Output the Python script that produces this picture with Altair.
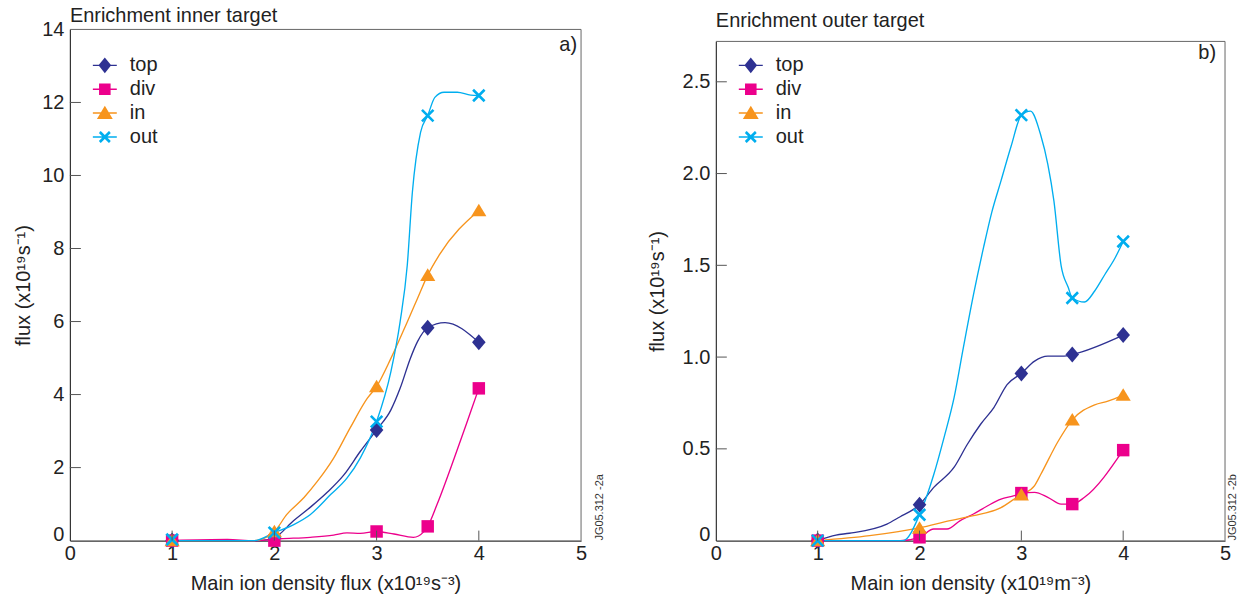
import altair as alt
import pandas as pd

FONT = "Liberation Sans"

series = ["top", "div", "in", "out"]
colors = ["#2e3192", "#ec008c", "#f7941d", "#00aeef"]

# marker positions (main ion density)
marker_x = [1, 2, 3, 3.5, 4]

# ---- panel a) Enrichment inner target: marker values
a_top = [0.0, 0.08, 3.03, 5.83, 5.43]
a_div = [0.0, 0.0, 0.25, 0.39, 4.17]
a_in = [0.0, 0.25, 4.22, 7.27, 9.04]
a_out = [0.03, 0.22, 3.26, 11.64, 12.19]

# ---- panel a) traced curves
a_top_cx = [1, 1.86, 2, 2.19, 2.35, 2.52, 2.68, 2.84, 3, 3.14, 3.23, 3.33, 3.40, 3.5, 3.67, 4]
a_top_cy = [0, 0, 0.08, 0.55, 0.91, 1.33, 1.8, 2.44, 3.03, 3.58, 4.17, 4.99, 5.45, 5.83, 5.97, 5.43]
a_div_cx = [1, 1.54, 1.8, 2.06, 2.35, 2.58, 2.71, 2.84, 3, 3.17, 3.36, 3.46, 3.5, 3.59, 3.76, 3.92, 4]
a_div_cy = [0, 0.03, 0, 0.05, 0.09, 0.15, 0.21, 0.2, 0.25, 0.18, 0.09, 0.24, 0.39, 0.98, 2.26, 3.53, 4.17]
a_in_cx = [1, 1.8, 2, 2.12, 2.29, 2.42, 2.58, 2.74, 2.91, 3, 3.14, 3.30, 3.40, 3.5, 3.61, 4]
a_in_cy = [0, 0, 0.25, 0.71, 1.18, 1.62, 2.26, 3.08, 3.9, 4.22, 4.99, 5.99, 6.63, 7.27, 7.81, 9.04]
a_out_cx = [1, 1.8, 2, 2.19, 2.35, 2.55, 2.71, 2.84, 3, 3.14, 3.23, 3.30, 3.35, 3.43, 3.5,
            3.57, 3.66, 3.79, 3.92, 4]
a_out_cy = [0, 0, 0.22, 0.44, 0.71, 1.26, 1.71, 2.26, 3.26, 4.63, 5.99, 7.54, 9.54, 11.18, 11.64,
            12.14, 12.28, 12.28, 12.2, 12.19]

# ---- panel b) Enrichment outer target: marker values
b_top = [0.0, 0.196, 0.911, 1.014, 1.12]
b_div = [0.0, 0.018, 0.259, 0.199, 0.493]
b_in = [0.0, 0.069, 0.25, 0.658, 0.793]
b_out = [0.0, 0.141, 2.318, 1.322, 1.63]

# ---- panel b) traced curves
b_top_cx = [1, 1.18, 1.31, 1.68, 1.81, 1.94, 2, 2.14, 2.34, 2.47, 2.60, 2.73, 2.86, 3, 3.13,
            3.26, 3.42, 3.5, 4]
b_top_cy = [0, 0.03, 0.04, 0.09, 0.13, 0.17, 0.196, 0.29, 0.40, 0.525, 0.634, 0.725, 0.85,
            0.911, 0.978, 1.005, 1.005, 1.014, 1.12]
b_div_cx = [1, 1.64, 1.81, 2, 2.14, 2.27, 2.40, 2.53, 2.67, 2.80, 2.93, 3, 3.13, 3.26, 3.39,
            3.5, 3.62, 4]
b_div_cy = [0, 0, 0, 0.018, 0.063, 0.063, 0.109, 0.145, 0.19, 0.226, 0.245, 0.259, 0.263,
            0.236, 0.199, 0.199, 0.236, 0.493]
b_in_cx = [1, 1.51, 2, 2.30, 2.53, 2.80, 2.93, 3, 3.13, 3.19, 3.36, 3.5, 3.72, 3.85, 4]
b_in_cy = [0, 0.027, 0.069, 0.109, 0.136, 0.18, 0.226, 0.25, 0.30, 0.36, 0.54, 0.658, 0.74,
           0.76, 0.793]
b_out_cx = [1, 1.84, 2, 2.14, 2.24, 2.34, 2.43, 2.53, 2.63, 2.71, 2.80, 2.90, 3, 3.09, 3.19,
            3.26, 3.32, 3.39, 3.46, 3.5, 3.62, 3.72, 3.82, 3.92, 4]
b_out_cy = [0, 0, 0.141, 0.36, 0.56, 0.78, 1.05, 1.34, 1.6, 1.79, 1.96, 2.15, 2.318, 2.34,
            2.21, 2.05, 1.85, 1.50, 1.38, 1.322, 1.30, 1.36, 1.45, 1.54, 1.63]

# axis tick labels
x_ticks = [0, 1, 2, 3, 4, 5]
a_y_ticks = [0, 2, 4, 6, 8, 10, 12, 14]
b_y_ticks = [0, 0.5, 1.0, 1.5, 2.0, 2.5]

# marker symbols (unit box -1..1)
marker_paths = {
    "top": "M0,-1L0.85,0L0,1L-0.85,0Z",
    "div": "M-0.78,-0.78H0.78V0.78H-0.78Z",
    "in": "M0,-0.85L0.95,0.72H-0.95Z",
    "out": "M-0.72,-0.72L0.72,0.72M-0.72,0.72L0.72,-0.72",
}


def rings(poly, scales):
    out = []
    for k in scales:
        pts = ["%.3f,%.3f" % (x * k, y * k) for x, y in poly]
        out.append("M" + "L".join(pts) + "Z")
    return "".join(out)


ring_scales = [1.0, 0.84, 0.68, 0.52, 0.36, 0.2, 0.06]
legend_paths = [
    "M-1,0H1" + rings([(0, -0.55), (0.45, 0), (0, 0.55), (-0.45, 0)], ring_scales),
    "M-1,0H1" + rings([(-0.42, -0.42), (0.42, -0.42), (0.42, 0.42), (-0.42, 0.42)], ring_scales),
    "M-1,0H1" + rings([(0, -0.5), (0.55, 0.42), (-0.55, 0.42)], ring_scales),
    "M-1,0H1" + "".join(
        "M%.3f,%.3fL%.3f,%.3fM%.3f,%.3fL%.3f,%.3f" % (-0.42 + d, -0.42 - d, 0.42 + d, 0.42 - d,
                                                    -0.42 + d, 0.42 + d, 0.42 + d, -0.42 + d)
        for d in (-0.035, 0, 0.035)),
]


def panel(marker_vals, curves, y_max, y_ticks, y_fmt, x_title, title, title_y, tag, tag_dx,
          tag_y, jg, jg_dx, W, H, top_gap, title_x):
    mdf = pd.DataFrame([{"x": x, "v": v, "s": s}
                        for s, vals in zip(series, marker_vals)
                        for x, v in zip(marker_x, vals)])
    cdf = pd.DataFrame([{"x": x, "v": v, "s": s, "i": i}
                        for s, (cx, cy) in zip(series, curves)
                        for i, (x, v) in enumerate(zip(cx, cy))])
    xs = alt.Scale(domain=[0, 5], nice=False, zero=False)
    ys = alt.Scale(domain=[0, y_max], nice=False, zero=False, range=[H, top_gap])
    X = alt.X("x:Q", scale=xs, title=x_title,
              axis=alt.Axis(values=x_ticks, labelFlush=False, labelPadding=3,
                            titleY=43, titleBaseline="middle", format="d"))
    Y = alt.Y("v:Q", scale=ys, title="flux (x10¹⁹s⁻¹)",
              axis=alt.Axis(values=y_ticks, labelFlush=False, labelPadding=6,
                            titleX=title_x, titleBaseline="middle",
                            labelExpr=y_fmt,
                            labelBaseline={"condition": {"test": "datum.value === 0",
                                                         "value": "alphabetic"},
                                           "value": "middle"}))
    leg = alt.Legend(orient="none", legendX=22, legendY=23,
                     title=None,
                     labelFont=FONT, labelFontSize=20, labelColor="#222",
                     symbolSize=576, symbolStrokeWidth=1.5, rowPadding=0.9,
                     labelOffset=12, padding=0, symbolOpacity=1)
    stroke_scale = alt.Scale(domain=series, range=colors)
    lines = alt.Chart(cdf).mark_line(strokeWidth=1.35, interpolate="monotone").encode(
        x=X, y=Y, stroke=alt.Stroke("s:N", scale=stroke_scale, legend=None), order="i:Q",
        detail="s:N")
    layers = [lines]
    for s in series:
        filled = s != "out"
        base = alt.Chart(mdf).transform_filter(alt.datum.s == s)
        if filled:
            pts = base.mark_point(shape=marker_paths[s], filled=True, size=256, opacity=1,
                                  strokeWidth=0).encode(
                x=X, y=Y, fill=alt.Fill("s:N", scale=alt.Scale(domain=series, range=colors),
                                        legend=None))
        else:
            pts = base.mark_point(shape=marker_paths[s], filled=False, size=256, opacity=1,
                                  strokeWidth=2.6).encode(
                x=X, y=Y, stroke=alt.Stroke("s:N", scale=stroke_scale, legend=None))
        layers.append(pts)
    legend_layer = alt.Chart(mdf).transform_filter("datum.x < -100").mark_point(
        filled=False, opacity=1, strokeWidth=1.5).encode(
        x=X, y=Y,
        color=alt.Color("s:N", scale=alt.Scale(domain=series, range=colors), legend=leg),
        shape=alt.Shape("s:N", scale=alt.Scale(domain=series, range=legend_paths), legend=leg),
    )
    layers.append(legend_layer)
    # frame (top and right borders)
    top_b = alt.Chart(pd.DataFrame({"v": [y_max]})).mark_rule(color="#666", strokeWidth=1).encode(
        y=alt.Y("v:Q", scale=ys), x=alt.value(0), x2=alt.value(W))
    right_b = alt.Chart(pd.DataFrame({"x": [5], "y0": [0], "y1": [y_max]})).mark_rule(
        color="#666", strokeWidth=1).encode(
        x=alt.X("x:Q", scale=xs), y=alt.Y("y0:Q", scale=ys), y2="y1:Q")
    inner = y_ticks[1:-1] if y_ticks[-1] == y_max else y_ticks[1:]
    yt = alt.Chart(pd.DataFrame({"v": inner})).mark_rule(color="#555", strokeWidth=1).encode(
        y=alt.Y("v:Q", scale=ys), x=alt.value(0), x2=alt.value(11))
    xt = alt.Chart(pd.DataFrame({"x": x_ticks[1:-1]})).mark_rule(
        color="#555", strokeWidth=1).encode(
        x=alt.X("x:Q", scale=xs), y=alt.value(H), y2=alt.value(H - 10))
    title_t = alt.Chart(pd.DataFrame({"t": [title]})).mark_text(
        align="left", baseline="middle", fontSize=20, font=FONT, color="#222").encode(
        text="t:N", x=alt.value(0), y=alt.value(title_y))
    spacer = alt.Chart(pd.DataFrame({"t": [title]})).mark_rule(
        color="white", strokeOpacity=0).encode(
        x=alt.value(0), x2=alt.value(2), y=alt.value(-28))
    tag_t = alt.Chart(pd.DataFrame({"t": [tag]})).mark_text(
        align="right", baseline="middle", fontSize=20, font=FONT, color="#222").encode(
        text="t:N", x=alt.value(W - tag_dx), y=alt.value(tag_y))
    jg_t = alt.Chart(pd.DataFrame({"t": [jg]})).mark_text(
        align="left", baseline="middle", fontSize=11, font=FONT, color="#333",
        angle=270).encode(text="t:N", x=alt.value(W + jg_dx), y=alt.value(H))
    layers += [top_b, right_b, yt, xt, title_t, spacer, tag_t, jg_t]
    return alt.layer(*layers).resolve_scale(color="independent", shape="independent").properties(
        width=W, height=H)


left = panel([a_top, a_div, a_in, a_out],
             [(a_top_cx, a_top_cy), (a_div_cx, a_div_cy), (a_in_cx, a_in_cy),
              (a_out_cx, a_out_cy)],
             14, a_y_ticks, "datum.label",
             "Main ion density flux (x10¹⁹s⁻³)", "Enrichment inner target", -13,
             "a)", 4, 16, "JG05.312 -2a", 19, 512, 512, 0, -46)
right = panel([b_top, b_div, b_in, b_out],
              [(b_top_cx, b_top_cy), (b_div_cx, b_div_cy), (b_in_cx, b_in_cy),
               (b_out_cx, b_out_cy)],
              2.72, b_y_ticks, "datum.value === 0 ? '0' : format(datum.value, '.1f')",
              "Main ion density (x10¹⁹m⁻³)", "Enrichment outer target", -8,
              "b)", 9, 24, "JG05.312 -2b", 8, 510, 512, 12, -58)

chart = alt.hconcat(left, right, spacing=41).properties(
    padding={"left": 13, "top": 0, "right": 0, "bottom": 0},
    background="white",
).configure_view(stroke="transparent").configure_axis(
    grid=False, ticks=False, domainColor="#333", domainWidth=1.2,
    labelFont=FONT, labelFontSize=20, labelColor="#222",
    titleFont=FONT, titleFontSize=20, titleFontWeight="normal", titleColor="#222",
)

chart.save("out.html", embed_options={"renderer": "svg", "actions": False})
